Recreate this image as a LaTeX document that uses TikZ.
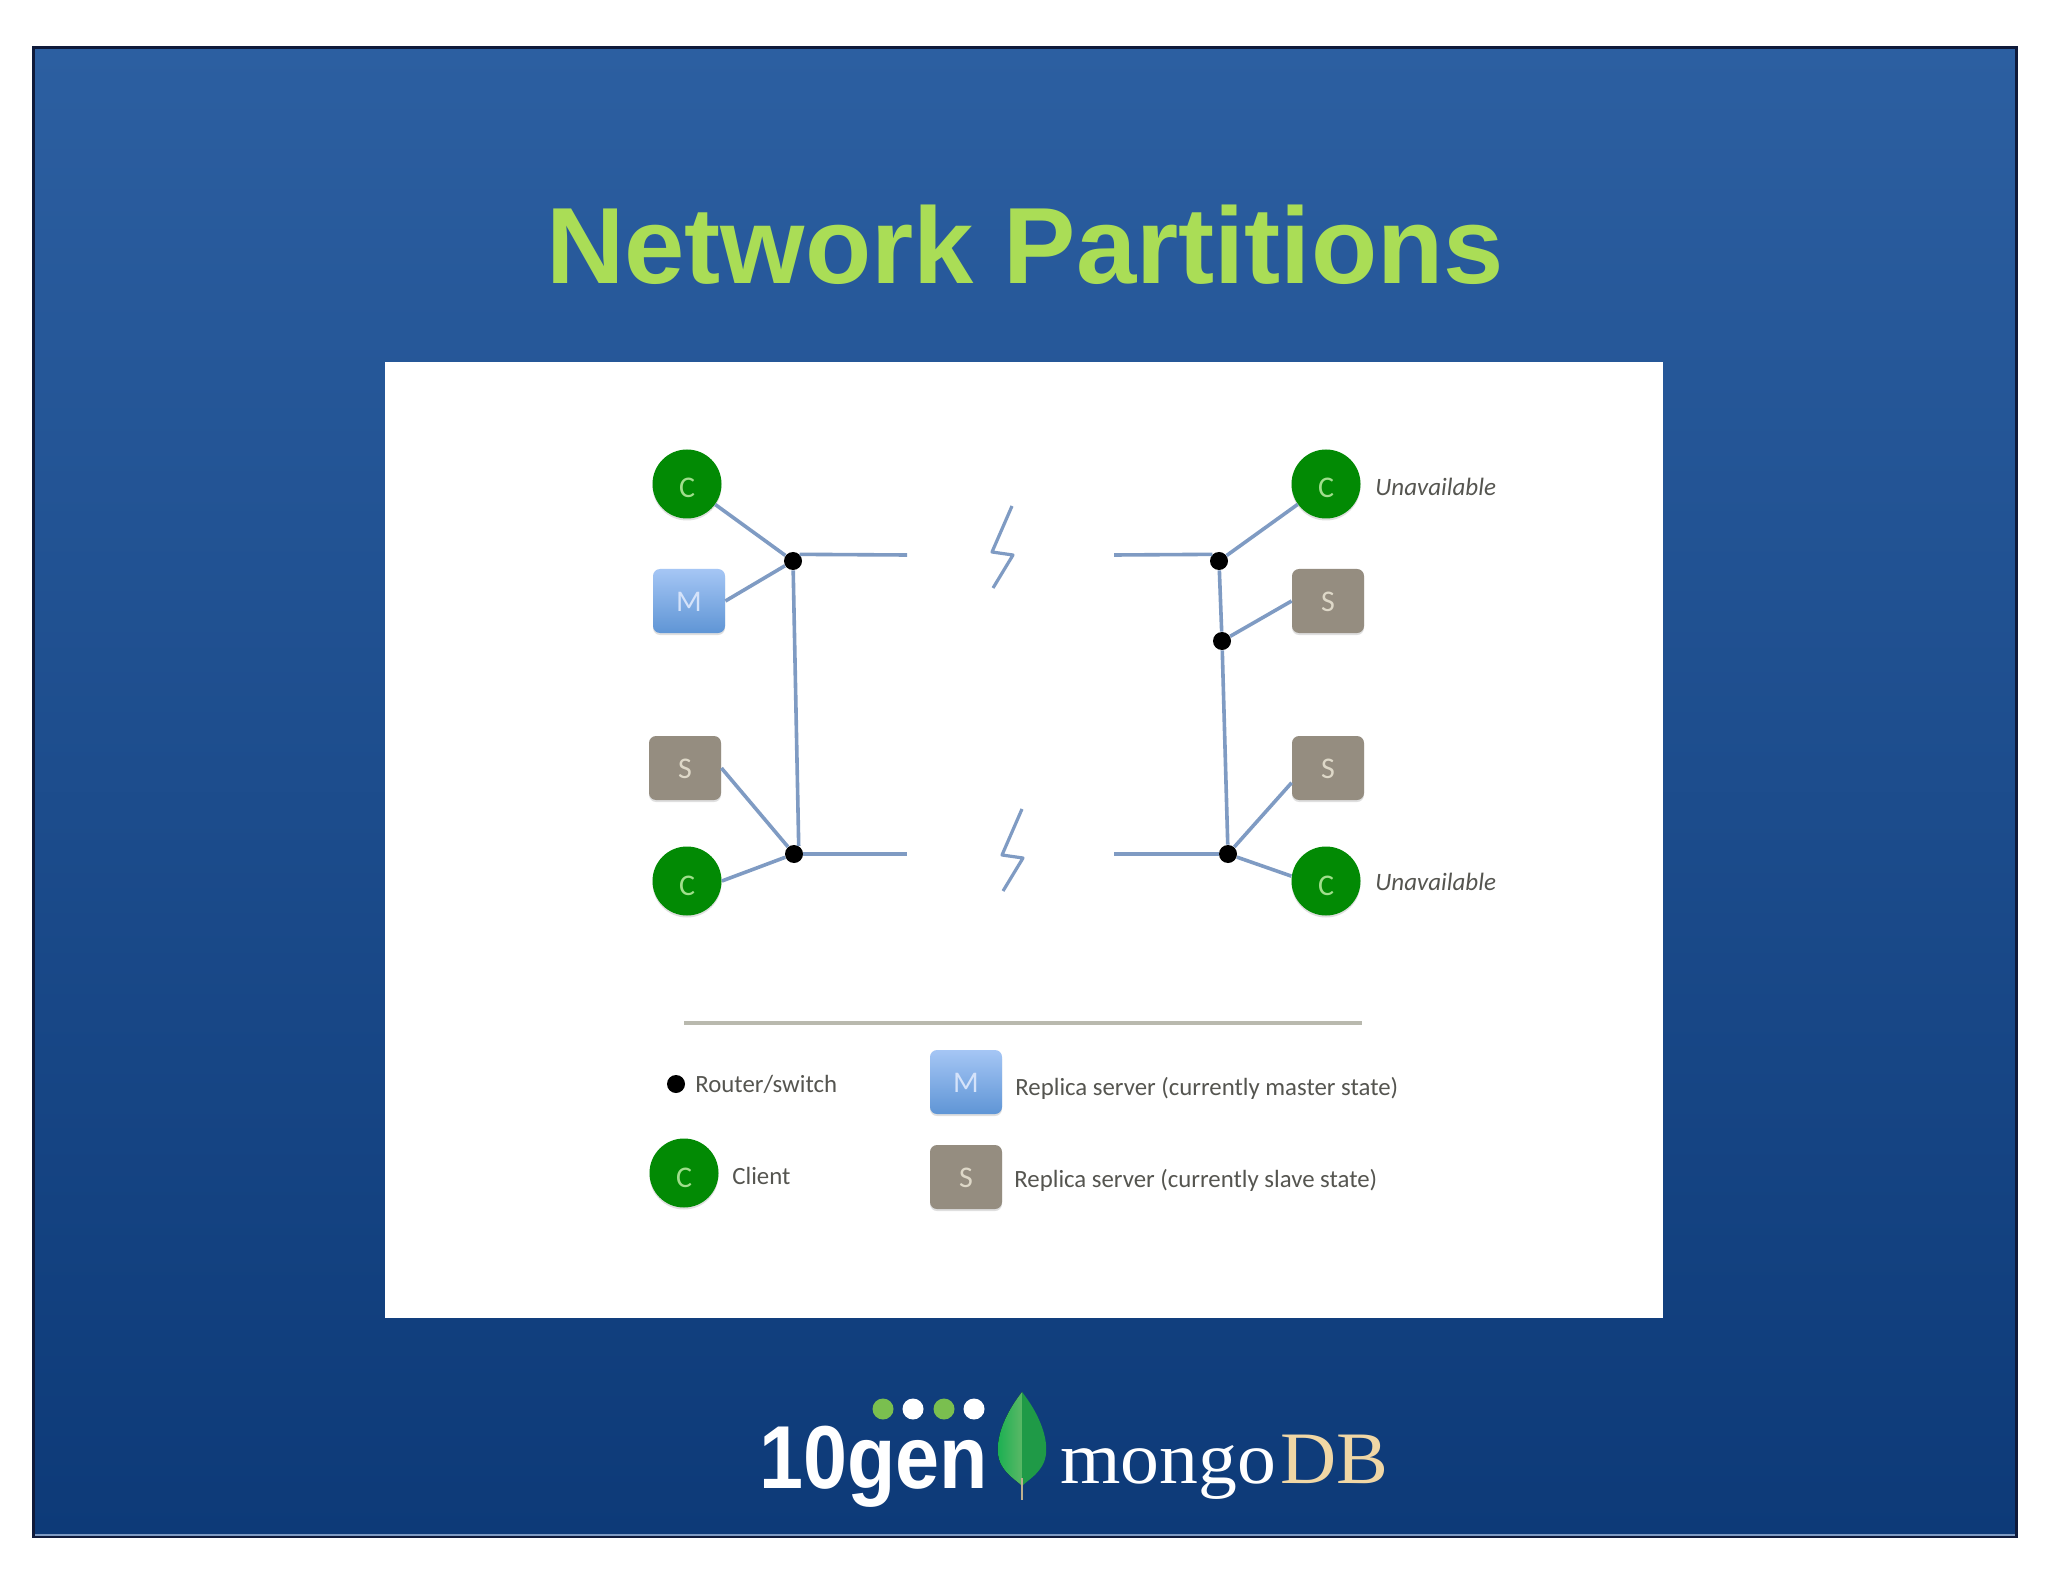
\documentclass[tikz,border=0pt]{standalone}
\usepackage{fontspec}
\usepackage{xcolor}
\setmainfont{Liberation Sans}
\newfontfamily\labelfont{Carlito}
\newfontfamily\logoserif{Liberation Serif}
\usetikzlibrary{shadows}
\definecolor{SlideTop}{RGB}{44,95,161}
\definecolor{SlideBot}{RGB}{13,58,120}
\definecolor{SlideEdge}{RGB}{15,26,58}
\definecolor{TitleGreen}{RGB}{170,221,86}
\definecolor{ClientGreen}{RGB}{2,138,4}
\definecolor{ClientText}{RGB}{160,222,140}
\definecolor{MasterTop}{RGB}{165,198,245}
\definecolor{MasterBot}{RGB}{95,149,213}
\definecolor{MasterText}{RGB}{213,227,250}
\definecolor{SlaveGrey}{RGB}{149,141,128}
\definecolor{SlaveText}{RGB}{222,216,200}
\definecolor{WireBlue}{RGB}{127,155,195}
\definecolor{LabelGrey}{RGB}{85,85,80}
\definecolor{RuleGrey}{RGB}{185,185,174}
\definecolor{LeafEdge}{RGB}{13,174,78}
\definecolor{LeafMid}{RGB}{91,184,102}
\definecolor{LeafDark}{RGB}{31,154,71}
\definecolor{LeafStem}{RGB}{189,176,143}
\definecolor{DotGreen}{RGB}{122,191,79}
\definecolor{LogoTan}{RGB}{240,215,165}
\begin{document}
\begin{tikzpicture}[
        x=0.5pt, y=-0.5pt,
        % --- STYLE CHUNG ---
        common/.style={
            inner sep=0pt,
            font=\labelfont\fontsize{15}{17}\selectfont,
            drop shadow={shadow xshift=0pt, shadow yshift=-1pt, opacity=0.25}
        },
        client_node/.style={
            common, circle,
            fill=ClientGreen,
            text=ClientText,
            text height=14pt, text depth=0pt,
            minimum size=34.5pt
        },
        master_node/.style={
            common, rectangle, rounded corners=3.5pt,
            top color=MasterTop,
            bottom color=MasterBot,
            text=MasterText,
            text height=10pt, text depth=0pt,
            minimum width=36pt, minimum height=32pt
        },
        slave_node/.style={
            common, rectangle, rounded corners=3.5pt,
            fill=SlaveGrey,
            text=SlaveText,
            text height=10pt, text depth=0pt,
            minimum width=36pt, minimum height=32pt
        },
        router_node/.style={
            circle, fill=black,
            minimum size=9pt, inner sep=0pt
        },
        wire/.style={
            draw=WireBlue, line width=1.8pt
        },
        label_text/.style={
            anchor=west, inner sep=0pt,
            text=LabelGrey,
            font=\labelfont\fontsize{12.4}{14}\selectfont
        },
        logo_dot/.style={
            circle, minimum size=10.5pt, inner sep=0pt
        }
    ]
    \useasboundingbox (0,0) rectangle (2048,1582);

    % --- NEN SLIDE ---
    \fill[white] (0,0) rectangle (2048,1582);
    \draw[SlideEdge, line width=1.5pt, top color=SlideTop, bottom color=SlideBot]
        (33,48) rectangle (2016,1536);
    \draw[WireBlue, line width=1pt] (35,1535) -- (2015,1535);
    \fill[white] (385,362) rectangle (1663,1318);

    % --- TIEU DE ---
    \node[font=\bfseries\fontsize{54.2}{60}\selectfont, text=TitleGreen, inner sep=0pt] (title)
        at (1025,245) {Network Partitions};

    % --- BEN TRAI ---
    \node[client_node] (C1) at (687,484) {C};
    \node[master_node] (M1) at (689,601) {M};
    \node[slave_node] (S1) at (685,768) {S};
    \node[client_node] (C2) at (687,881) {C};
    \node[router_node] (R1) at (793,561) {};
    \node[router_node] (R2) at (794,854) {};
    \coordinate (breakA) at (907,555);
    \coordinate (breakC) at (907,854);

    \draw[wire] (C1) -- (R1);
    \draw[wire] (M1.east) -- (R1);
    \draw[wire] (S1.east) -- (R2);
    \draw[wire] (C2.east) -- (R2);
    \draw[wire] (R1) -- (R2.60);
    \draw[wire] (R1.north east) -- (breakA);
    \draw[wire] (R2) -- (breakC);

    % --- BEN PHAI ---
    \node[client_node] (C3) at (1326,484) {C};
    \node[slave_node] (S2) at (1328,601) {S};
    \node[slave_node] (S3) at (1328,768) {S};
    \node[client_node] (C4) at (1326,881) {C};
    \node[router_node] (R3) at (1219,561) {};
    \node[router_node] (R4) at (1222,641) {};
    \node[router_node] (R5) at (1228,854) {};
    \coordinate (breakB) at (1114,555);
    \coordinate (breakD) at (1114,854);

    \draw[wire] (C3) -- (R3);
    \draw[wire] (S2.west) -- (R4);
    \draw[wire] (S3.202) -- (R5);
    \draw[wire] (C4.172) -- (R5);
    \draw[wire] (R3) -- (R4);
    \draw[wire] (R4) -- (R5);
    \draw[wire] (breakB) -- (R3.north west);
    \draw[wire] (breakD) -- (R5);

    \node[label_text, font=\labelfont\itshape\fontsize{12.5}{14}\selectfont] (U1) at (1375,487) {Unavailable};
    \node[label_text, font=\labelfont\itshape\fontsize{12.5}{14}\selectfont] (U2) at (1375,882) {Unavailable};

    % --- TIA SET ---
    \foreach \bx/\by in {1012/506, 1022/809} {
        \draw[WireBlue, line width=1.6pt, line join=round]
            (\bx,\by) -- ++(-20,46) -- ++(21,3) -- ++(-20,33);
    }

    % --- CHU GIAI ---
    \coordinate (ruleL) at (684,1023);
    \coordinate (ruleR) at (1362,1023);
    \draw[RuleGrey, line width=1.8pt] (ruleL) -- (ruleR);

    \node[router_node] (R6) at (676,1084) {};
    \node[label_text] (routerText) at (695,1084) {Router/switch};
    \node[client_node] (C5) at (684,1173) {C};
    \node[label_text] (clientText) at (732,1176) {Client};
    \node[master_node] (M2) at (966,1082) {M};
    \node[label_text] (masterText) at (1015,1088) {Replica server (currently master state)};
    \node[slave_node] (S4) at (966,1177) {S};
    \node[label_text] (slaveText) at (1014,1180) {Replica server (currently slave state)};

    % --- LOGO ---
    \node[inner sep=0pt, anchor=base west, text=white, xscale=0.885, transform shape,
        font=\bfseries\fontsize{44.7}{50}\selectfont] (gen) at (759,1488) {10gen};
    \node[logo_dot, fill=DotGreen] (dotA) at (883,1409) {};
    \node[logo_dot, fill=white] (dotB) at (913,1409) {};
    \node[logo_dot, fill=DotGreen] (dotC) at (944,1409) {};
    \node[logo_dot, fill=white] (dotD) at (974,1409) {};

    \fill[left color=LeafEdge, right color=LeafMid] (1022,1392) .. controls (1000,1420) and (992,1450) .. (1002,1466)
        .. controls (1008,1476) and (1016,1480) .. (1022,1486) -- cycle;
    \fill[LeafDark] (1022,1392) .. controls (1044,1420) and (1052,1450) .. (1042,1466)
        .. controls (1036,1476) and (1028,1480) .. (1022,1486) -- cycle;
    \draw[LeafStem, line width=1.4pt] (1022,1478) -- (1022,1500);

    \node[inner sep=0pt, anchor=base west, text=white, xscale=1.05, transform shape,
        font=\logoserif\fontsize{37}{42}\selectfont] (mongo) at (1060,1483)
        {mongo\hspace{2pt}\textcolor{LogoTan}{DB}};
\end{tikzpicture}
\end{document}
